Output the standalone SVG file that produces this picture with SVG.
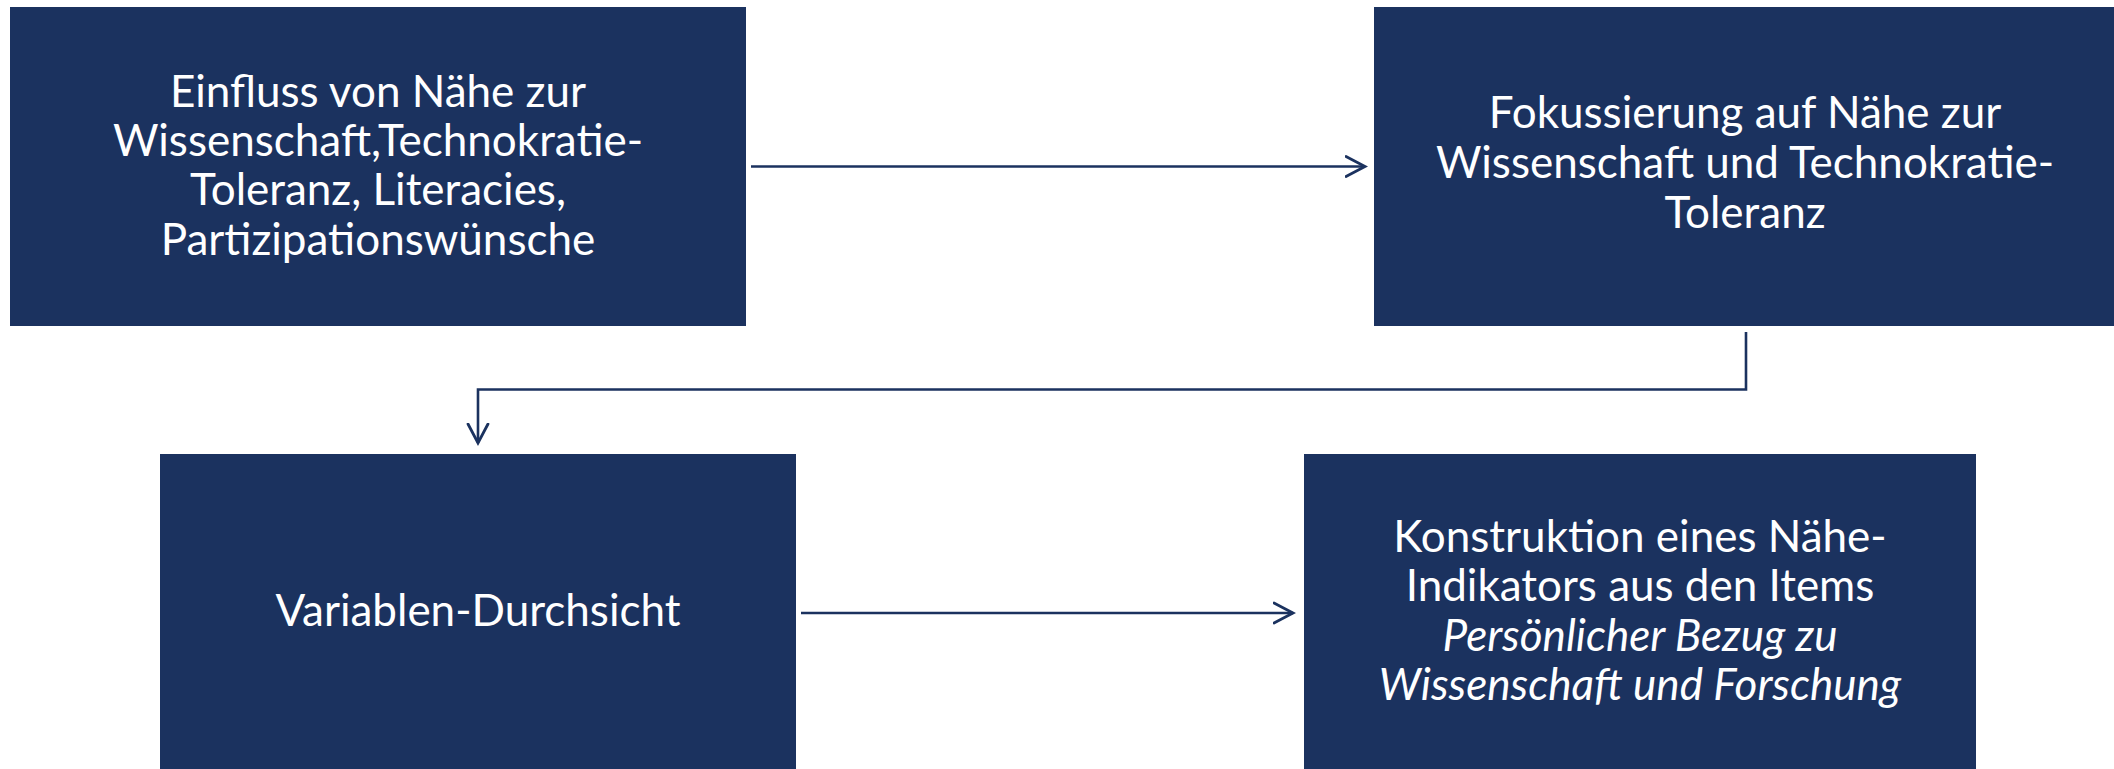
<svg xmlns="http://www.w3.org/2000/svg" width="2114" height="769" viewBox="0 0 2114 769">
<style>
.box{fill:#1b325f;}
.t{fill:#ffffff;font-family:Lato,"Open Sans","Liberation Sans",sans-serif;font-size:44px;text-anchor:middle;}
.it{font-style:italic;}
.c{fill:none;stroke:#1b325f;stroke-width:2.6;}
</style>
<defs>
<marker id="arr" markerUnits="userSpaceOnUse" markerWidth="30" markerHeight="30" viewBox="0 0 30 30" refX="20" refY="15" orient="auto">
<path d="M1,5 L20,15 L1,25" fill="none" stroke="#1b325f" stroke-width="2.8" stroke-linecap="round" stroke-linejoin="miter"/>
</marker>
</defs>
<rect width="2114" height="769" fill="#ffffff"/>
<g id="n1">
<rect class="box" x="10" y="7" width="736" height="319"/>
<text class="t"><tspan x="378" y="107">Einfluss von Nähe zur</tspan><tspan x="378" y="156">Wissenschaft,Technokratie-</tspan><tspan x="378" y="205">Toleranz, Literacies,</tspan><tspan x="378" y="255">Partizipationswünsche</tspan></text>
</g>
<g id="n2">
<rect class="box" x="1374" y="7" width="740" height="319"/>
<text class="t"><tspan x="1745" y="128">Fokussierung auf Nähe zur</tspan><tspan x="1745" y="178">Wissenschaft und Technokratie-</tspan><tspan x="1745" y="228">Toleranz</tspan></text>
</g>
<g id="n3">
<rect class="box" x="160" y="454" width="636" height="315"/>
<text class="t"><tspan x="478" y="626">Variablen-Durchsicht</tspan></text>
</g>
<g id="n4">
<rect class="box" x="1304" y="454" width="672" height="315"/>
<text class="t"><tspan x="1640" y="552">Konstruktion eines Nähe-</tspan><tspan x="1640" y="601">Indikators aus den Items</tspan><tspan class="it" x="1640" y="651">Persönlicher Bezug zu</tspan><tspan class="it" x="1640" y="700">Wissenschaft und Forschung</tspan></text>
</g>
<g id="connectors">
<path class="c" d="M751,166.5 L1365,166.5" marker-end="url(#arr)"/>
<path class="c" d="M1746,332 L1746,389.5 L478,389.5 L478,443" marker-end="url(#arr)"/>
<path class="c" d="M801,613 L1293,613" marker-end="url(#arr)"/>
</g>
</svg>
